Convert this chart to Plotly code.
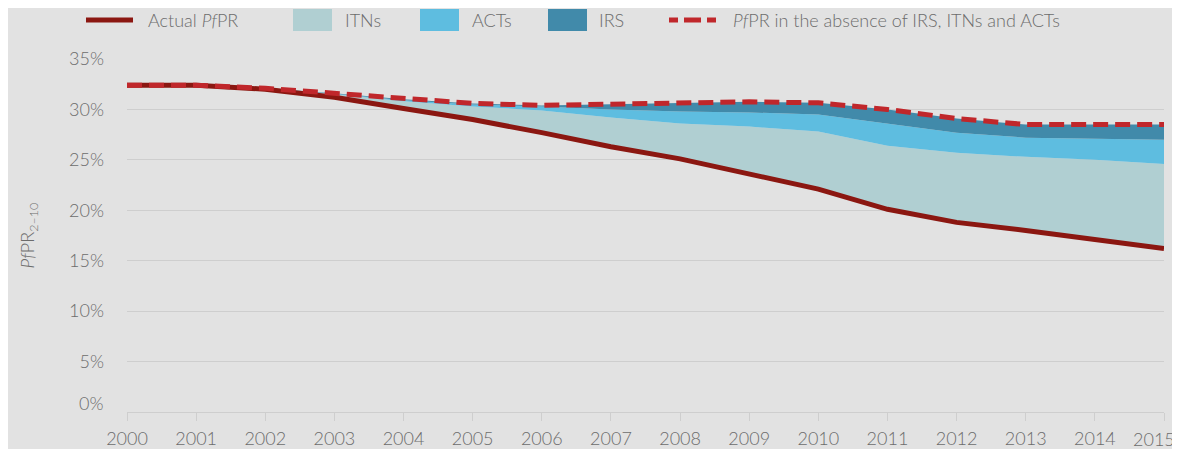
import plotly.graph_objects as go

# ---- data ----
years = list(range(2000, 2016))
actual_pfpr = [32.4, 32.4, 32.0, 31.2, 30.1, 29.0, 27.7, 26.3, 25.1, 23.6, 22.1, 20.1, 18.8, 18.0, 17.1, 16.2]
itn_top = [32.4, 32.4, 32.05, 31.5, 30.8, 30.3, 29.9, 29.2, 28.6, 28.3, 27.8, 26.4, 25.7, 25.3, 25.0, 24.6]
act_top = [32.4, 32.4, 32.1, 31.55, 30.9, 30.5, 30.3, 30.0, 29.8, 29.7, 29.5, 28.6, 27.7, 27.2, 27.1, 27.0]
counterfactual_pfpr = [32.4, 32.4, 32.1, 31.6, 31.0, 30.6, 30.4, 30.5, 30.65, 30.75, 30.65, 30.0, 29.1, 28.5, 28.5, 28.5]
y_ticks = [0, 5, 10, 15, 20, 25, 30, 35]

legend_labels = ["Actual <i>Pf</i>PR", "ITNs", "ACTs", "IRS",
                 "<i>Pf</i>PR in the absence of IRS, ITNs and ACTs"]

# ---- styling ----
BG = "#e2e2e2"
GRID = "#cecece"
TXT = "#6c6c6c"
C_ACTUAL = "#8b1711"
C_CF = "#c0272b"
C_ITN = "#b0cfd2"
C_ACT = "#5ebde0"
C_IRS = "#418aaa"
FONT = "Lato Light, Lato"

OFF = 8  # browser body margin
W, H = 1180 - OFF, 449 - OFF
PL, PR, PT, PB = 127 - OFF, 1164 - OFF, 59 - OFF, 412 - OFF


def px(x):
    return (x - OFF - PL) / (PR - PL)


def py(y):
    return (PB - (y - OFF)) / (PB - PT)


fig = go.Figure()
# base for stacking
fig.add_trace(go.Scatter(x=years, y=actual_pfpr, mode="lines", line=dict(width=0, color=C_ACTUAL),
                         showlegend=False, hoverinfo="skip"))
fig.add_trace(go.Scatter(x=years, y=itn_top, mode="lines", line=dict(width=0, color=C_ITN),
                         fill="tonexty", fillcolor=C_ITN, name="ITNs", showlegend=False))
fig.add_trace(go.Scatter(x=years, y=act_top, mode="lines", line=dict(width=0, color=C_ACT),
                         fill="tonexty", fillcolor=C_ACT, name="ACTs", showlegend=False))
fig.add_trace(go.Scatter(x=years, y=counterfactual_pfpr, mode="lines", line=dict(width=0, color=C_IRS),
                         fill="tonexty", fillcolor=C_IRS, name="IRS", showlegend=False))
fig.add_trace(go.Scatter(x=years, y=actual_pfpr, mode="lines",
                         line=dict(color=C_ACTUAL, width=5), name="Actual PfPR", showlegend=False))
fig.add_trace(go.Scatter(x=years, y=counterfactual_pfpr, mode="lines",
                         line=dict(color=C_CF, width=5, dash="15px,7px"),
                         name="PfPR in the absence", showlegend=False))

shapes = []
annotations = []
ly = 20
# legend: actual line
shapes.append(dict(type="line", xref="paper", yref="paper", x0=px(86), x1=px(133), y0=py(ly), y1=py(ly),
                   line=dict(color=C_ACTUAL, width=5)))
annotations.append(dict(x=px(146), y=py(ly), xref="paper", yref="paper", xanchor="left", yanchor="middle",
                        text=legend_labels[0], showarrow=False))
# swatches
for (x0, x1, tx), col, lab in zip([(293, 332, 343), (420, 459, 470), (548, 587, 597)],
                                   [C_ITN, C_ACT, C_IRS], legend_labels[1:4]):
    shapes.append(dict(type="rect", xref="paper", yref="paper", x0=px(x0), x1=px(x1), y0=py(31), y1=py(9),
                       fillcolor=col, line=dict(width=0)))
    annotations.append(dict(x=px(tx), y=py(ly), xref="paper", yref="paper", xanchor="left", yanchor="middle",
                            text=lab, showarrow=False))
# dashed legend
shapes.append(dict(type="line", xref="paper", yref="paper", x0=px(669), x1=px(716), y0=py(ly), y1=py(ly),
                   line=dict(color=C_CF, width=5, dash="9px,6px,17px,6px,9px")))
annotations.append(dict(x=px(731), y=py(ly), xref="paper", yref="paper", xanchor="left", yanchor="middle",
                        text=legend_labels[4], showarrow=False))
# 0% label (sits slightly above the axis line, as in the reference)
annotations.append(dict(x=0, y=0, xref="paper", yref="y", xanchor="right", yanchor="middle",
                        xshift=-22, yshift=9, text="0%", showarrow=False))
# last year label, kept inside the picture's right edge
annotations.append(dict(x=years[-1], y=0, xref="x", yref="y", xanchor="right", yanchor="middle",
                        xshift=13, yshift=-27, text=str(years[-1]), showarrow=False,
                        font=dict(size=18, color=TXT)))

fig.update_layout(
    width=W, height=H,
    margin=dict(l=PL, r=W - PR, t=PT, b=H - PB, pad=0, autoexpand=False),
    paper_bgcolor=BG, plot_bgcolor=BG,
    font=dict(family=FONT, size=18, color=TXT),
    showlegend=False,
    shapes=shapes, annotations=annotations,
)
fig.update_xaxes(
    automargin=False,
    range=[2000, 2015], tickvals=years, ticktext=[str(y) for y in years[:-1]] + [""],
    showgrid=False, zeroline=False, showline=True, linecolor=GRID, linewidth=1,
    ticks="outside", ticklen=8, tickcolor=GRID, tickwidth=1, ticklabelstandoff=2,
    tickfont=dict(size=18, color=TXT),
)
fig.update_yaxes(
    automargin=False,
    range=[0, 35], tickvals=y_ticks[1:], ticktext=[f"{v}%" for v in y_ticks[1:]],
    showgrid=True, gridcolor=GRID, gridwidth=1, zeroline=False, showline=False,
    ticks="", ticklabelstandoff=22,
    tickfont=dict(size=18, color=TXT),
    title=dict(text="<i>Pf</i>PR<sub>2–10</sub>", standoff=29, font=dict(size=18, color=TXT)),
)

fig.write_html("out.html", post_script="document.documentElement.style.overflow='hidden';"
                                       "document.body.style.overflow='hidden';")
